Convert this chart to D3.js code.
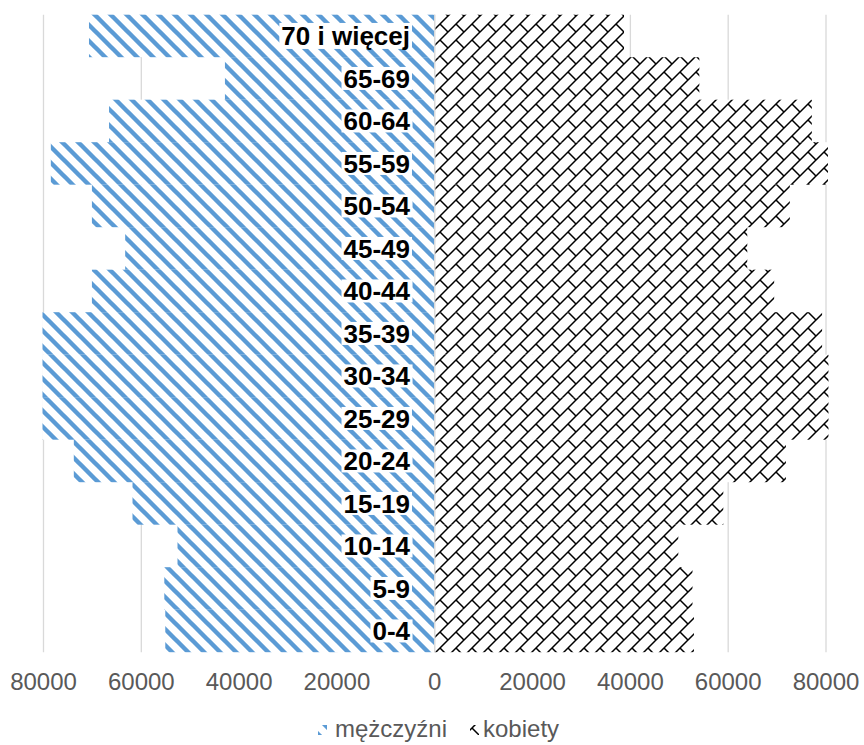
<!DOCTYPE html>
<html>
<head>
<meta charset="utf-8">
<script src="https://cdn.jsdelivr.net/npm/d3@7"></script>
<style>
  html, body { margin: 0; padding: 0; background: #fff; }
  svg { display: block; font-family: "Liberation Sans", Arial, sans-serif; }
</style>
</head>
<body>
<svg id="chart" width="864" height="745"></svg>
<script>
// ---- data ----
const categories = ["0-4", "5-9", "10-14", "15-19", "20-24", "25-29", "30-34", "35-39",
                    "40-44", "45-49", "50-54", "55-59", "60-64", "65-69", "70 i więcej"];
const men   = [55100, 55300, 52600, 61800, 73800, 80200, 80200, 80200,
               70100, 63300, 70100, 78500, 66600, 42900, 70700];
const women = [53000, 52700, 49800, 59000, 71800, 80500, 80500, 79200,
               69400, 63900, 72600, 80400, 77100, 54100, 38700];
const tickValues = [-80000, -60000, -40000, -20000, 0, 20000, 40000, 60000, 80000];
const seriesNames = ["mężczyźni", "kobiety"];

// ---- layout ----
const svg = d3.select("#chart");
const plotTop = 14.7, plotBottom = 652.2;
const x = d3.scaleLinear().domain([-80000, 80000]).range([43.5, 826]);
const y = d3.scaleBand().domain(categories.slice().reverse()).range([plotTop, plotBottom]).padding(0);

// ---- patterns ----
const defs = svg.append("defs");
const pBlue = defs.append("pattern").attr("id", "pBlue")
  .attr("patternUnits", "userSpaceOnUse").attr("width", 16).attr("height", 16);
pBlue.append("rect").attr("width", 16).attr("height", 16).attr("fill", "#fff");
pBlue.append("path")
  .attr("d", "M-4,-4 L20,20 M-20,-4 L4,20 M12,-4 L36,20")
  .attr("stroke", "#5B9BD5").attr("stroke-width", 4.4).attr("fill", "none");

const pBrick = defs.append("pattern").attr("id", "pBrick")
  .attr("patternUnits", "userSpaceOnUse").attr("width", 16).attr("height", 16);
pBrick.append("rect").attr("width", 16).attr("height", 16).attr("fill", "#fff");
pBrick.append("path")
  .attr("d", "M17,-1 L-1,17 M8,8 L17,17 M-1,1 L1,-1 M15,17 L17,15 M-1,-1 L0.5,0.5")
  .attr("stroke", "#000").attr("stroke-width", 1.5).attr("fill", "none");

// ---- gridlines ----
svg.append("g").selectAll("line").data(tickValues).join("line")
  .attr("x1", d => x(d)).attr("x2", d => x(d))
  .attr("y1", plotTop).attr("y2", plotBottom)
  .attr("stroke", "#D9D9D9").attr("stroke-width", 1.3);

// ---- bars ----
const rows = categories.map((c, i) => ({ cat: c, m: men[i], w: women[i] }));
svg.append("g").selectAll("rect").data(rows).join("rect")
  .attr("x", d => x(-d.m)).attr("width", d => x(0) - x(-d.m))
  .attr("y", d => y(d.cat)).attr("height", y.bandwidth())
  .attr("fill", "url(#pBlue)");
svg.append("g").selectAll("rect").data(rows).join("rect")
  .attr("x", x(0)).attr("width", d => x(d.w) - x(0))
  .attr("y", d => y(d.cat)).attr("height", y.bandwidth())
  .attr("fill", "url(#pBrick)");

// zero axis line
svg.append("line")
  .attr("x1", x(0)).attr("x2", x(0)).attr("y1", plotTop).attr("y2", plotBottom)
  .attr("stroke", "#D9D9D9").attr("stroke-width", 1.5);

// ---- category labels with white boxes ----
const lab = svg.append("g");
rows.forEach(d => {
  const cy = y(d.cat) + y.bandwidth() / 2;
  const g = lab.append("g");
  const rect = g.append("rect").attr("fill", "#fff");
  const t = g.append("text")
    .attr("x", 410).attr("y", cy + 9.2)
    .attr("text-anchor", "end")
    .attr("font-size", 26).attr("font-weight", "bold").attr("fill", "#000")
    .text(d.cat);
  const bb = t.node().getBBox();
  const desc = /[jyęgpq]/.test(d.cat);
  rect.attr("x", bb.x - 2).attr("width", bb.width + 4)
      .attr("y", cy - (desc ? 13 : 11.5)).attr("height", desc ? 26 : 23);
});

// ---- x tick labels ----
svg.append("g").selectAll("text").data(tickValues).join("text")
  .attr("x", d => x(d)).attr("y", 690)
  .attr("text-anchor", "middle")
  .attr("font-size", 24).attr("fill", "#595959")
  .text(d => String(Math.abs(d)));

// ---- legend ----
const leg = svg.append("g");
const legItems = [
  { name: seriesNames[0], fill: "url(#pBlue)", mx: 318, tx: 335 },
  { name: seriesNames[1], fill: "url(#pBrick)", mx: 470, tx: 483 }
];
legItems.forEach(it => {
  leg.append("rect").attr("x", it.mx).attr("y", 725).attr("width", 9).attr("height", 10)
    .attr("fill", it.fill);
  leg.append("text").attr("x", it.tx).attr("y", 737)
    .attr("font-size", 24).attr("fill", "#595959").text(it.name);
});
</script>
</body>
</html>
